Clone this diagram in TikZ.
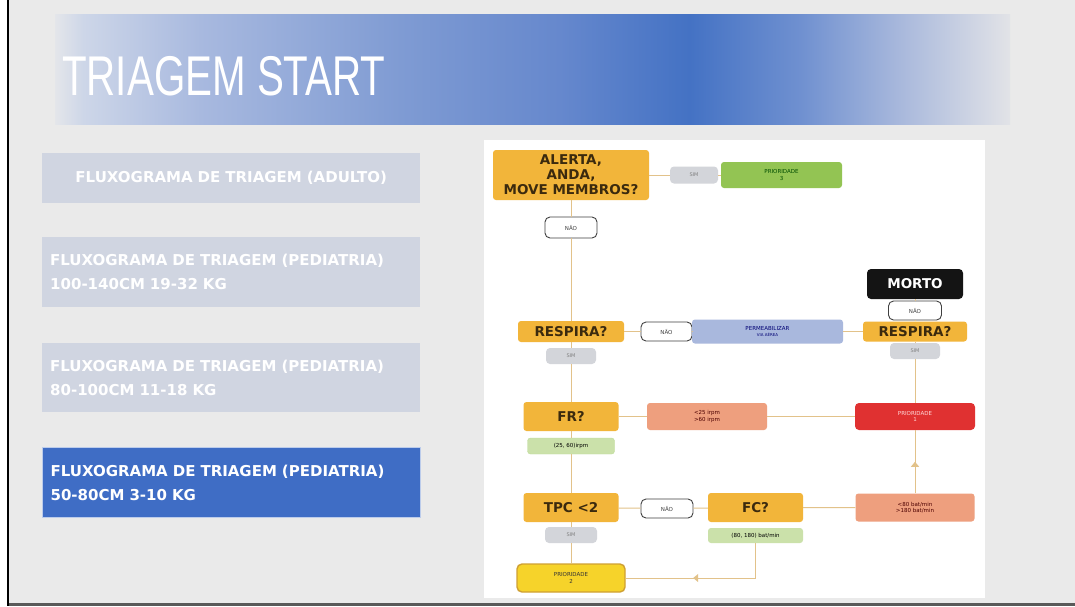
\documentclass[tikz,border=0pt]{standalone}
\usepackage{fontspec}
\setmainfont{DejaVu Sans}
\newfontfamily\titlefont{Liberation Sans}
\usepackage{graphicx}
\usepackage{xcolor}
\usetikzlibrary{positioning, arrows.meta, decorations.markings}

\definecolor{slideBg}{HTML}{EAEAEA}
\definecolor{menuGray}{HTML}{D0D5E1}
\definecolor{menuBlue}{HTML}{3F6DC5}
\definecolor{askOrange}{HTML}{F2B53A}
\definecolor{askText}{HTML}{3B2A0E}
\definecolor{linkTan}{HTML}{E2C28A}
\definecolor{tabGray}{HTML}{D3D5DA}
\definecolor{okGreen}{HTML}{93C453}
\definecolor{okPale}{HTML}{CBE1AA}
\definecolor{airBlue}{HTML}{A9B8DD}
\definecolor{warnSalmon}{HTML}{EE9F7E}
\definecolor{urgRed}{HTML}{E03131}
\definecolor{delayYellow}{HTML}{F6D32A}
\definecolor{delayEdge}{HTML}{CFA033}
\definecolor{bnA}{HTML}{E4E6EA}
\definecolor{bnB}{HTML}{CDD6E8}
\definecolor{bnC}{HTML}{A8B9DF}
\definecolor{bnD}{HTML}{7F9BD3}
\definecolor{bnE}{HTML}{6688CD}
\definecolor{bnF}{HTML}{4472C4}
\definecolor{bnG}{HTML}{6F90D0}
\definecolor{bnH}{HTML}{A8B8DC}
\definecolor{bnI}{HTML}{E2E3E7}

\pgfdeclarehorizontalshading{bannerShade}{100bp}{color(0bp)=(bnA); color(25bp)=(bnA); color(26.5bp)=(bnB); color(32.6bp)=(bnC); color(43.1bp)=(bnD); color(51.4bp)=(bnE); color(58.2bp)=(bnF); color(64bp)=(bnG); color(69.2bp)=(bnH); color(75bp)=(bnI); color(100bp)=(bnI)}

\begin{document}
\begin{tikzpicture}[
  x=1pt, y=-1pt,
  >=Stealth,
  menuB/.style={fill=menuGray, text=white, anchor=north west, inner xsep=8pt, inner ysep=0pt, text width=362pt, align=left, font=\bfseries\fontsize{15}{24}\selectfont},
  flowB/.style={rounded corners=3pt, inner sep=0pt, align=center},
  askB/.style={flowB, fill=askOrange, text=askText, minimum width=95pt, minimum height=29pt, font=\bfseries\fontsize{13.5}{15}\selectfont},
  smallB/.style={flowB, font=\fontsize{5.5}{6.5}\selectfont},
  tabS/.style={flowB, fill=tabGray, text=gray, rounded corners=4pt, minimum width=50pt, minimum height=16pt, font=\fontsize{5}{5}\selectfont},
  tabN/.style={flowB, fill=white, draw=darkgray, line width=0.9pt, text=darkgray, rounded corners=5pt, minimum width=52pt, minimum height=19pt, font=\fontsize{5.5}{6}\selectfont},
  link/.style={draw=linkTan, line width=1pt},
  midArr/.style={link, postaction={decorate}, decoration={markings, mark=at position #1 with {\arrow[linkTan]{Triangle[width=8pt,length=5pt]}}}}
]
\useasboundingbox (0,0) rectangle (1075,606);
\fill[white] (0,0) rectangle (1075,606);
\fill[slideBg] (9,0) rectangle (1075,606);
\fill[black] (7,0) rectangle (9,606);
\fill[black!65] (9,603) rectangle (1075,606);
\shade[shading=bannerShade] (55,14) rectangle (1010,124);
\node[anchor=base west, text=white, inner sep=0pt] (title) at (62,95) {\titlefont\fontsize{56}{56}\selectfont\scalebox{0.72}[1]{TRIAGEM START}};

\node[menuB, minimum height=50pt, align=center] (adulto) at (42,153) {FLUXOGRAMA DE TRIAGEM (ADULTO)};
\node[menuB, minimum height=70pt] (ped1) at (42,237) {FLUXOGRAMA DE TRIAGEM (PEDIATRIA)\\100-140CM 19-32 KG};
\node[menuB, minimum height=69pt] (ped2) at (42,343) {FLUXOGRAMA DE TRIAGEM (PEDIATRIA)\\80-100CM 11-18 KG};
\node[menuB, minimum height=70pt, fill=menuBlue, draw=menuBlue!35!white, line width=1.2pt] (ped3) at (42,447) {FLUXOGRAMA DE TRIAGEM (PEDIATRIA)\\50-80CM 3-10 KG};

\fill[white] (484,140) rectangle (985,598);

\node[askB, minimum width=156pt, minimum height=50pt] (alerta) at (571,175) {ALERTA,\\ANDA,\\MOVE MEMBROS?};
\node[tabS, minimum width=48pt, minimum height=17pt] (simA) at (694,175) {SIM};
\node[smallB, fill=okGreen, text=black!70!green, minimum width=121pt, minimum height=26pt] (p3) at (781.5,175) {PRIORIDADE\\3};
\node[tabN, minimum height=21pt] (naoA) at (571,227.5) {NÃO};

\node[askB, minimum width=106pt, minimum height=21pt] (resp1) at (571,331.5) {RESPIRA?};
\node[tabN, minimum width=51pt] (naoB) at (666.5,331.5) {NÃO};
\node[smallB, fill=airBlue, text=blue!45!black, minimum width=151pt, minimum height=24pt] (perm) at (767.5,331.5) {PERMEABILIZAR\\{\fontsize{4}{5}\selectfont VIA AÉREA}};
\node[askB, minimum width=104pt, minimum height=20pt] (resp2) at (915,331.5) {RESPIRA?};
\node[flowB, fill=black!92, text=white, rounded corners=4pt, minimum width=96pt, minimum height=30pt, font=\bfseries\fontsize{13.5}{15}\selectfont] (morto) at (915,284) {MORTO};
\node[tabN, minimum width=53pt] (naoC) at (915,310.5) {NÃO};
\node[tabS] (simB) at (915,351) {SIM};
\node[tabS] (simC) at (571,356) {SIM};

\node[askB] (fr) at (571,416.5) {FR?};
\node[smallB, fill=warnSalmon, text=black!70!red, minimum width=120pt, minimum height=27pt] (sal1) at (707,416.5) {<25 irpm\\>60 irpm};
\node[smallB, fill=urgRed, text=white!85!red, rounded corners=4pt, minimum width=120pt, minimum height=27pt] (red) at (915,416.5) {PRIORIDADE\\1};
\node[smallB, fill=okPale, draw=okGreen!60, minimum width=87pt, minimum height=16pt] (frv) at (571,446) {(25, 60)irpm};

\node[askB] (tpc) at (571,507.5) {TPC <2};
\node[tabN] (naoD) at (667,508.5) {NÃO};
\node[askB] (fc) at (755.5,507.5) {FC?};
\node[smallB, fill=warnSalmon, text=black!70!red, minimum width=119pt, minimum height=28pt] (sal2) at (915,507.5) {<80 bat/min\\>180 bat/min};
\node[tabS, minimum width=52pt] (simD) at (571,535) {SIM};
\node[smallB, fill=okPale, minimum width=95pt, minimum height=15pt] (fcv) at (755.5,535.5) {(80, 180) bat/min};
\node[smallB, fill=delayYellow, draw=delayEdge, line width=1.4pt, rounded corners=5pt, minimum width=108pt, minimum height=28pt, text=black!80] (p2) at (571,578) {PRIORIDADE\\2};

\draw[link] (alerta) -- (simA) -- (p3);
\draw[link] (alerta) -- (naoA) -- (resp1) -- (simC) -- (fr) -- (frv) -- (tpc) -- (simD) -- (p2);
\draw[link] (resp1) -- (naoB) -- (perm) -- (resp2);
\draw[link] (resp2) -- (naoC) -- (morto);
\draw[link] (resp2) -- (simB) -- (red);
\draw[link] (fr) -- (sal1) -- (red);
\draw[link] (tpc) -- (naoD) -- (fc) -- (sal2);
\draw[midArr=0.5] (sal2) -- (red);
\draw[midArr=0.59] (fcv.south) |- (p2.east);
\end{tikzpicture}
\end{document}
